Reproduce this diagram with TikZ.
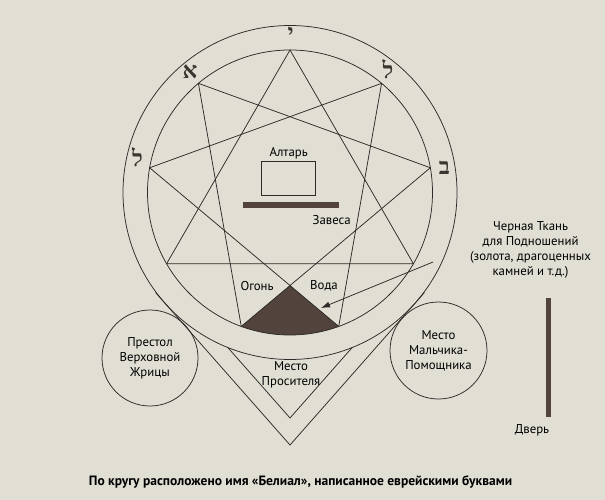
\documentclass[tikz,border=0pt]{standalone}
\usepackage{fontspec}
\setmainfont{PT Sans}
\newfontfamily\hebfont[Script=Hebrew]{Liberation Serif}
\usetikzlibrary{calc,arrows.meta}
\definecolor{bg}{RGB}{225,222,212}
\definecolor{ink}{RGB}{45,42,40}
\definecolor{darkfill}{RGB}{82,68,60}
\definecolor{hebink}{RGB}{60,52,48}
\tikzset{
  lbl/.style={font=\fontsize{12.8}{15}\selectfont, align=center, inner sep=0pt, text=black},
  heb/.style={font=\hebfont\bfseries\fontsize{23}{23}\selectfont, text=hebink, inner sep=0pt},
  seat/.style={circle, draw=ink, inner sep=0pt, align=center, font=\fontsize{12.8}{15}\selectfont, text=black},
  barbox/.style={fill=darkfill, draw=none, inner sep=0pt},
}
\begin{document}
\begin{tikzpicture}[x=1pt,y=-1pt, line width=0.75pt, draw=ink]
\fill[bg] (0,0) rectangle (605,500);
\useasboundingbox (0,0) rectangle (605,500);
\coordinate (O) at (290,192.5);
\foreach \k in {0,...,8} \coordinate (P\k) at ($(O)+({-(90+40*\k)}:142.5)$);
\coordinate (Apex) at (intersection of P4--P7 and P5--P2);
% dark offering cloth
\begin{scope}
  \clip (O) circle[radius=142.5];
  \fill[darkfill] (Apex) -- ($(Apex)!1.4!(P4)$) -- (290,360) -- ($(Apex)!1.4!(P5)$) -- cycle;
\end{scope}
% circles
\draw (O) circle[radius=167];
\draw (O) circle[radius=142.5];
% enneagram: three triangles
\draw (P0) -- (P3) -- (P6) -- cycle;
\draw (P1) -- (P4) -- (P7) -- cycle;
\draw (P2) -- (P5) -- (P8) -- cycle;
% V shapes
\coordinate (Vo) at (290,445);
\coordinate (TL) at (155.7,292.7);
\coordinate (TR) at (424.3,292.7);
\draw (TL) -- (Vo) -- (TR);
\coordinate (Vi) at (290,418);
\coordinate (IL) at (227.8,347.5);
\coordinate (IR) at (352.2,347.5);
\draw (IL) -- (Vi) -- (IR);
% side circles
\node[seat, minimum size=96pt] (throne) at (150,358) {Престол\\Верховной\\Жрицы};
\node[seat, minimum size=97pt] (boy) at (438.5,350.5) {Место\\Мальчика-\\Помощника};
% altar and veil
\node[draw=ink, minimum width=54.4pt, minimum height=34pt, inner sep=0pt] (altar) at (288.5,178.3) {};
\node[lbl] (altarlbl) at (288.7,153) {Алтарь};
\node[barbox, minimum width=96.6pt, minimum height=5.4pt] (veil) at (291,205) {};
\node[lbl] (veillbl) at (331.7,220) {Завеса};
\node[lbl] (fire) at (257,286) {Огонь};
\node[lbl] (water) at (324,286) {Вода};
\node[lbl] (supplicant) at (291,375) {Место\\Просителя};
% cloth label and arrow
\node[lbl] (cloth) at (530.5,249.5) {Черная Ткань\\для Подношений\\(золота, драгоценных\\камней и т.д.)};
\coordinate (arrowstart) at (433,262);
\coordinate (clothtip) at (321,308);
\draw[-{Latex[length=9pt,width=6pt]}, line width=0.75pt] (arrowstart) -- (clothtip);
% door
\node[barbox, minimum width=5pt, minimum height=119pt] (door) at (548.3,357.5) {};
\node[lbl] (doorlbl) at (532,430) {Дверь};
% hebrew letters
\node[heb] (hbet) at (444.3,167.5) {ב};
\node[heb] (hlamed1) at (388,69) {ל};
\node[heb] (hyod) at (290.7,33.3) {י};
\node[heb] (halef) at (190,71.7) {א};
\node[heb] (hlamed2) at (137.5,157.5) {ל};
% caption
\node[font=\bfseries\fontsize{13.5}{16}\selectfont, inner sep=0pt] (caption) at (300.5,482) {По кругу расположено имя «Белиал», написанное еврейскими буквами};
\end{tikzpicture}
\end{document}
